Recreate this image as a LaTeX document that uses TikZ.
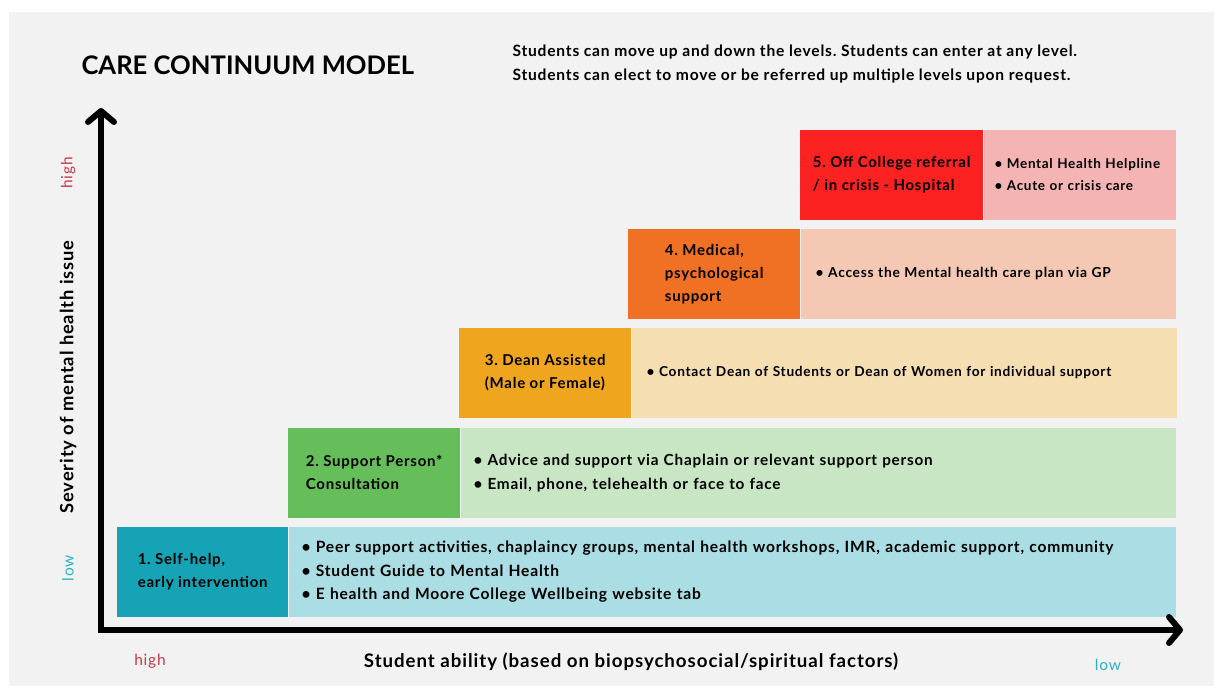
\documentclass[tikz,border=0pt]{standalone}
\usepackage{fontspec}
\setmainfont{Lato}
\newfontfamily\bodyfont{Lato}[LetterSpace=5]
\usetikzlibrary{arrows.meta,positioning}
\usepackage{xcolor}
\definecolor{pagegray}{RGB}{242,242,242}
\definecolor{selfdark}{RGB}{22,163,181}
\definecolor{selflite}{RGB}{170,222,228}
\definecolor{suppdark}{RGB}{101,190,89}
\definecolor{supplite}{RGB}{200,230,195}
\definecolor{deandark}{RGB}{240,165,30}
\definecolor{deanlite}{RGB}{245,222,178}
\definecolor{meddark}{RGB}{240,112,36}
\definecolor{medlite}{RGB}{244,200,178}
\definecolor{crisdark}{RGB}{252,34,34}
\definecolor{crislite}{RGB}{245,180,180}
\definecolor{highred}{RGB}{196,58,72}
\definecolor{lowteal}{RGB}{43,178,196}
\frenchspacing

\begin{document}
\begin{tikzpicture}[x=1pt,y=1pt,
      lvl/.style={anchor=south west,minimum height=90pt,minimum width=#1,inner sep=2pt,
                  align=left,font=\bodyfont\bfseries\fontsize{15}{23}\selectfont},
      info/.style={minimum height=90pt,inner xsep=13pt,inner ysep=2pt,
                   text width=#1,align=left,font=\bodyfont\bfseries\fontsize{13.7}{23}\selectfont},
      axis/.style={line width=6pt,line join=miter,
                   {Straight Barb[length=11pt,width=26pt,round]}-{Straight Barb[length=11pt,width=26pt,round]}},
      endlbl/.style={font=\bodyfont\fontsize{15.5}{18}\selectfont}
    ]
    \useasboundingbox (0,0) rectangle (1220,693);
    \fill[pagegray] (9,7) rectangle (1214,681);

    % heading and note
    \node[anchor=west,font=\bfseries\fontsize{25.6}{30}\selectfont] (title) at (78,628) {CARE CONTINUUM MODEL};
    \node[anchor=west,align=left,font=\bodyfont\bfseries\fontsize{15.6}{24}\selectfont] (note) at (509,629)
          {Students can move up and down the levels. Students can enter at any level.\\
           Students can elect to move or be referred up multiple levels upon request.};

    % level 1
    \node[lvl=171pt,fill=selfdark] (selfhelp) at (117,76)
          {1. Self-help,\\early intervention};
    \node[info=861pt,fill=selflite,right=0pt of selfhelp,font=\bodyfont\bfseries\fontsize{15.6}{23.5}\selectfont] (selfinfo)
          {• Peer support activities, chaplaincy groups, mental health workshops, IMR, academic support, community\\
           • Student Guide to Mental Health\\
           • E health and Moore College Wellbeing website tab};

    % level 2
    \node[lvl=172pt,fill=suppdark] (support) at (288,175)
          {2. Support Person*\\Consultation};
    \node[info=689pt,fill=supplite,right=0pt of support,font=\bodyfont\bfseries\fontsize{15.3}{24}\selectfont] (suppinfo)
          {• Advice and support via Chaplain or relevant support person\\
           • Email, phone, telehealth or face to face};

    % level 3
    \node[lvl=172pt,fill=deandark] (dean) at (459,275)
          {3. Dean Assisted\\(Male or Female)};
    \node[info=515pt,fill=deanlite,right=0pt of dean,inner xsep=15pt] (deaninfo)
          {• Contact Dean of Students or Dean of Women for individual support};

    % level 4
    \node[lvl=172pt,fill=meddark] (medical) at (628,374)
          {4. Medical,\\psychological\\support};
    \node[info=345pt,fill=medlite,right=0pt of medical,inner xsep=15pt,font=\bodyfont\bfseries\fontsize{13.8}{23}\selectfont] (medinfo)
          {• Access the Mental health care plan via GP};

    % level 5
    \node[lvl=183pt,fill=crisdark] (crisis) at (800,473)
          {5. Off College referral\\/ in crisis - Hospital};
    \node[info=170pt,fill=crislite,right=0pt of crisis,inner xsep=11pt,font=\bodyfont\bfseries\fontsize{13.5}{22}\selectfont] (crisinfo)
          {• Mental Health Helpline\\
           • Acute or crisis care};

    % axes
    \coordinate (origin) at (101,63);
    \coordinate (ytop) at (101,585);
    \coordinate (xend) at (1183,63);
    \draw[axis] (ytop) -- (origin) -- (xend);

    \node[rotate=90,font=\bodyfont\bfseries\fontsize{18.3}{20}\selectfont] (sevlbl) at (68,316) {Severity of mental health issue};
    \node[rotate=90,endlbl,text=highred] (sevhigh) at (68,520) {high};
    \node[rotate=90,endlbl,text=lowteal] (sevlow) at (68,125) {low};

    \node[font=\bodyfont\bfseries\fontsize{18.7}{20}\selectfont] (ablbl) at (631,31)
          {Student ability (based on biopsychosocial/spiritual factors)};
    \node[endlbl,text=highred] (abhigh) at (150,32) {high};
    \node[endlbl,text=lowteal] (ablow) at (1108,28) {low};
\end{tikzpicture}
\end{document}
